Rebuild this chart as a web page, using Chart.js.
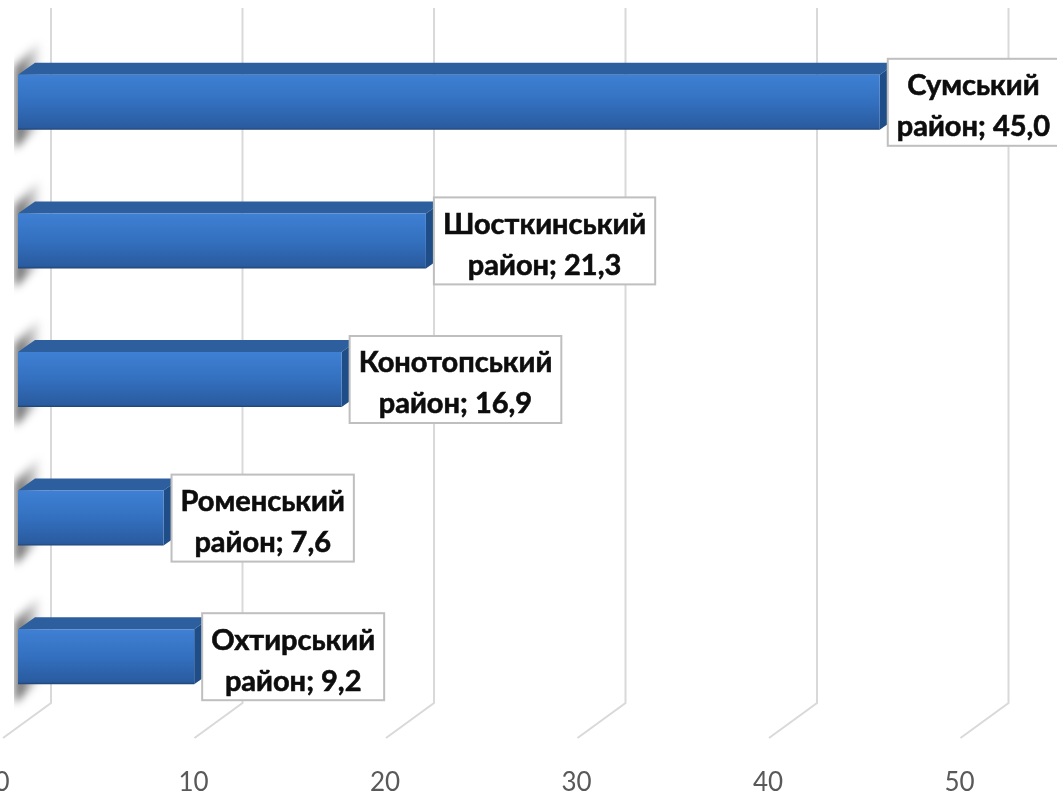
<!DOCTYPE html>
<html lang="uk"><head><meta charset="utf-8">
<style>html,body{margin:0;padding:0;background:#fff;overflow:hidden}canvas{display:block}</style>
<script src="https://cdn.jsdelivr.net/npm/chart.js@4/dist/chart.umd.min.js"></script>
</head><body><canvas id="c" width="1057" height="791"></canvas>
<script>
const districts = ['Сумський','Шосткинський','Конотопський','Роменський','Охтирський'];
const suffix = 'район';
const shares = [45.0,21.3,16.9,7.6,9.2];
const axisMax = 50, axisStep = 10;

const DX = 17, DY = 12;         // depth of the 3-D look
const WALL = 33;                // wall offset for gridlines

const label3d = {
  id:'label3d',
  beforeDatasetsDraw(chart){
    const {ctx,scales:{x}} = chart;
    const bars = chart.getDatasetMeta(0).data;
    const base = x.getPixelForValue(0);
    ctx.save();
    ctx.strokeStyle = '#d9d9d9'; ctx.lineWidth = 2;
    const bottom = chart.chartArea.bottom;
    x.ticks.forEach(t=>{
      const p = x.getPixelForValue(t.value) + WALL;
      ctx.beginPath();
      ctx.moveTo(p, 8); ctx.lineTo(p, bottom-23);
      ctx.lineTo(p-48, bottom+12);
      ctx.stroke();
    });
    bars.forEach(b=>{
      const top = b.y - b.height/2, bot = b.y + b.height/2;
      ctx.save();
      ctx.filter = 'blur(4px)';
      const g = ctx.createLinearGradient(base-4,0,base+22,0);
      g.addColorStop(0,'rgba(60,60,60,0.95)');
      g.addColorStop(0.5,'rgba(120,120,120,0.7)');
      g.addColorStop(1,'rgba(200,200,200,0.3)');
      ctx.fillStyle = g;
      ctx.beginPath();
      ctx.moveTo(base-3, top-8);
      ctx.lineTo(base+21, top-33);
      ctx.lineTo(base+21, bot-4);
      ctx.lineTo(base-3, bot+19);
      ctx.closePath(); ctx.fill();
      ctx.restore();
      ctx.fillStyle='#fff';
      ctx.fillRect(base-14, top-40, 10, b.height+80);
    });
    bars.forEach(b=>{
      const top = b.y - b.height/2, bot = b.y + b.height/2;
      ctx.fillStyle = '#2d5f9e';
      ctx.beginPath();
      ctx.moveTo(base, top); ctx.lineTo(base+DX, top-DY);
      ctx.lineTo(b.x+DX, top-DY); ctx.lineTo(b.x, top);
      ctx.closePath(); ctx.fill();
      ctx.fillStyle = '#1f4d88';
      ctx.beginPath();
      ctx.moveTo(b.x, top); ctx.lineTo(b.x+DX, top-DY);
      ctx.lineTo(b.x+DX, bot-DY); ctx.lineTo(b.x, bot);
      ctx.closePath(); ctx.fill();
    });
    ctx.restore();
  },
  afterDatasetsDraw(chart){
    const {ctx} = chart;
    const bars = chart.getDatasetMeta(0).data;
    ctx.save();
    ctx.font = 'bold 29px Lato, "Open Sans", sans-serif';
    ctx.textAlign='center'; ctx.textBaseline='middle';
    bars.forEach((b,i)=>{
      const l1 = districts[i];
      const l2 = suffix + '; ' + shares[i].toFixed(1).replace('.',',');
      const w = Math.max(ctx.measureText(l1).width, ctx.measureText(l2).width) + 18;
      const h = 87;
      const left = b.x + 8, topY = b.y - h/2;
      ctx.fillStyle='#fff'; ctx.fillRect(left,topY,w,h);
      ctx.strokeStyle='#bfbfbf'; ctx.lineWidth=2; ctx.strokeRect(left,topY,w,h);
      ctx.fillStyle='#0d0d0d'; ctx.strokeStyle='#0d0d0d'; ctx.lineWidth=0.6;
      [[l1,27],[l2,68]].forEach(([s,dy])=>{
        ctx.fillText(s,left+w/2,topY+dy);
        ctx.strokeText(s,left+w/2,topY+dy);
      });
    });
    ctx.restore();
  }
};

new Chart(document.getElementById('c'),{
  type:'bar',
  data:{
    labels:districts,
    datasets:[{
      data:shares,
      categoryPercentage:0.397,
      barPercentage:1,
      borderWidth:0,
      backgroundColor(ctx){
        const ch = ctx.chart;
        if(!ch.chartArea || !ch.scales.y) return '#3573c0';
        const c = ch.scales.y.getPixelForValue(ctx.dataIndex), h = 27.5;
        const g = ch.ctx.createLinearGradient(0,c-h,0,c+h);
        g.addColorStop(0,'#3f80d4');
        g.addColorStop(0.5,'#3370bf');
        g.addColorStop(0.96,'#2a5b9f');
        g.addColorStop(1,'#1f4272');
        return g;
      }
    }]
  },
  options:{
    indexAxis:'y',
    responsive:false,
    animation:false,
    layout:{padding:{left:18,right:81.5,top:33,bottom:0}},
    plugins:{legend:{display:false},tooltip:{enabled:false}},
    scales:{
      x:{
        min:0,max:axisMax,
        border:{display:false},
        grid:{display:false},
        afterFit(s){s.height=65;s.paddingLeft=0;s.paddingRight=0;},
        ticks:{stepSize:axisStep,padding:33,labelOffset:-16,maxRotation:0,
          color:'#595959',font:{family:'Lato, "Open Sans", sans-serif',size:26}}
      },
      y:{display:false}
    }
  },
  plugins:[label3d]
});
</script></body></html>
